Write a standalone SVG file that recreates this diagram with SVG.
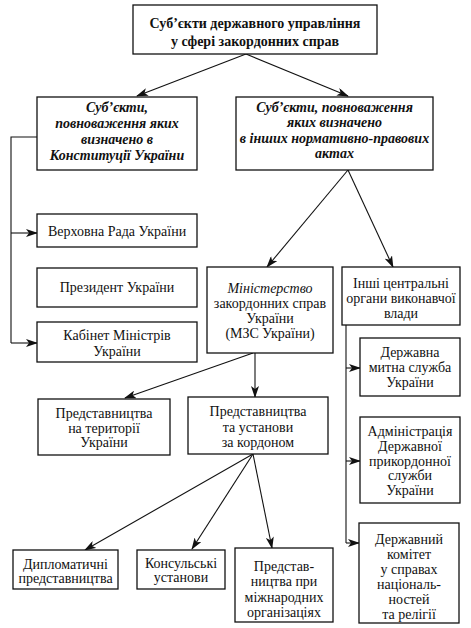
<svg xmlns="http://www.w3.org/2000/svg" width="471" height="628" viewBox="0 0 471 628">
<style>
.b{fill:#fff;stroke:#111;stroke-width:1.3}
.t{font-family:"Liberation Serif","Times New Roman",serif;font-size:14px;fill:#111;text-anchor:middle}
.tb{font-weight:bold}
.ti{font-style:italic}
.c{fill:none;stroke:#111;stroke-width:1.1}
</style>
<defs>
<marker id="ah" viewBox="0 0 12 8" refX="11" refY="4" markerWidth="12" markerHeight="8" markerUnits="userSpaceOnUse" orient="auto">
<path d="M0,0 L12,4 L0,8 L3,4 z" fill="#111"/>
</marker>
</defs>
<rect width="471" height="628" fill="#fff"/>
<g id="connectors">
<path class="c" d="M246,54 L137,96" marker-end="url(#ah)"/>
<path class="c" d="M246,54 L348,96" marker-end="url(#ah)"/>
<path class="c" d="M37,137 H11 V343"/>
<path class="c" d="M11,233 H37" marker-end="url(#ah)"/>
<path class="c" d="M11,343 H37" marker-end="url(#ah)"/>
<path class="c" d="M348,170 L267,267" marker-end="url(#ah)"/>
<path class="c" d="M348,170 L393,267" marker-end="url(#ah)"/>
<path class="c" d="M346,325 V543"/>
<path class="c" d="M346,368 H360" marker-end="url(#ah)"/>
<path class="c" d="M346,461 H360" marker-end="url(#ah)"/>
<path class="c" d="M346,543 H359" marker-end="url(#ah)"/>
<path class="c" d="M253,353 L125,398" marker-end="url(#ah)"/>
<path class="c" d="M255,353 V397" marker-end="url(#ah)"/>
<path class="c" d="M253,454 L85,550" marker-end="url(#ah)"/>
<path class="c" d="M253,454 L192,549" marker-end="url(#ah)"/>
<path class="c" d="M253,454 L272,548" marker-end="url(#ah)"/>
</g>
<g id="root">
<rect class="b" x="133" y="5" width="244" height="49"/>
<text class="t tb" x="255" y="28">Суб’єкти державного управління</text>
<text class="t tb" x="255" y="46">у сфері закордонних справ</text>
</g>
<g id="constitution">
<rect class="b" x="37" y="97" width="160" height="73"/>
<text class="t tb ti" x="117" y="112">Суб’єкти,</text>
<text class="t tb ti" x="117" y="128">повноваження яких</text>
<text class="t tb ti" x="117" y="144">визначено в</text>
<text class="t tb ti" x="117" y="160">Конституції України</text>
</g>
<g id="other-acts">
<rect class="b" x="236" y="97" width="197" height="73"/>
<text class="t tb ti" x="334.5" y="112">Суб’єкти, повноваження</text>
<text class="t tb ti" x="334.5" y="127">яких визначено</text>
<text class="t tb ti" x="334.5" y="143">в інших нормативно-правових</text>
<text class="t tb ti" x="334.5" y="158">актах</text>
</g>
<g id="verkhovna-rada">
<rect class="b" x="37" y="214" width="160" height="33"/>
<text class="t" x="117" y="236">Верховна Рада України</text>
</g>
<g id="president">
<rect class="b" x="37" y="268" width="160" height="39"/>
<text class="t" x="117" y="292">Президент України</text>
</g>
<g id="cabinet">
<rect class="b" x="37" y="322" width="160" height="40"/>
<text class="t" x="117" y="340">Кабінет Міністрів</text>
<text class="t" x="117" y="356">України</text>
</g>
<g id="mfa">
<rect class="b" x="207" y="267" width="126" height="86"/>
<text class="t ti" x="270" y="293">Міністерство</text>
<text class="t" x="270" y="308">закордонних справ</text>
<text class="t" x="270" y="323">України</text>
<text class="t" x="270" y="338">(МЗС України)</text>
</g>
<g id="other-bodies">
<rect class="b" x="342" y="267" width="118" height="58"/>
<text class="t" x="401" y="288">Інші центральні</text>
<text class="t" x="401" y="303">органи виконавчої</text>
<text class="t" x="401" y="318">влади</text>
</g>
<g id="customs">
<rect class="b" x="360" y="338" width="100" height="58"/>
<text class="t" x="410" y="357">Державна</text>
<text class="t" x="410" y="372">митна служба</text>
<text class="t" x="410" y="387">України</text>
</g>
<g id="border-guard">
<rect class="b" x="360" y="417" width="100" height="86"/>
<text class="t" x="410" y="436">Адміністрація</text>
<text class="t" x="410" y="451">Державної</text>
<text class="t" x="410" y="466">прикордонної</text>
<text class="t" x="410" y="480">служби</text>
<text class="t" x="410" y="495">України</text>
</g>
<g id="nationalities">
<rect class="b" x="359" y="523" width="100" height="100"/>
<text class="t" x="409" y="544">Державний</text>
<text class="t" x="409" y="559">комітет</text>
<text class="t" x="409" y="574">у справах</text>
<text class="t" x="409" y="589">національ-</text>
<text class="t" x="409" y="604">ностей</text>
<text class="t" x="409" y="619">та релігії</text>
</g>
<g id="domestic-missions">
<rect class="b" x="38" y="399" width="132" height="56"/>
<text class="t" x="104" y="418">Представництва</text>
<text class="t" x="104" y="433">на території</text>
<text class="t" x="104" y="447">України</text>
</g>
<g id="foreign-missions">
<rect class="b" x="188" y="397" width="140" height="57"/>
<text class="t" x="258" y="416">Представництва</text>
<text class="t" x="258" y="432">та установи</text>
<text class="t" x="258" y="447">за кордоном</text>
</g>
<g id="diplomatic">
<rect class="b" x="13" y="550" width="105" height="39"/>
<text class="t" x="65.5" y="569">Дипломатичні</text>
<text class="t" x="65.5" y="583">представництва</text>
</g>
<g id="consular">
<rect class="b" x="137" y="550" width="88" height="39"/>
<text class="t" x="181" y="568">Консульські</text>
<text class="t" x="181" y="582">установи</text>
</g>
<g id="intl-orgs">
<rect class="b" x="235" y="548" width="98" height="74"/>
<text class="t" x="284" y="571">Представ-</text>
<text class="t" x="284" y="586">ництва при</text>
<text class="t" x="284" y="602">міжнародних</text>
<text class="t" x="284" y="617">організаціях</text>
</g>
</svg>
